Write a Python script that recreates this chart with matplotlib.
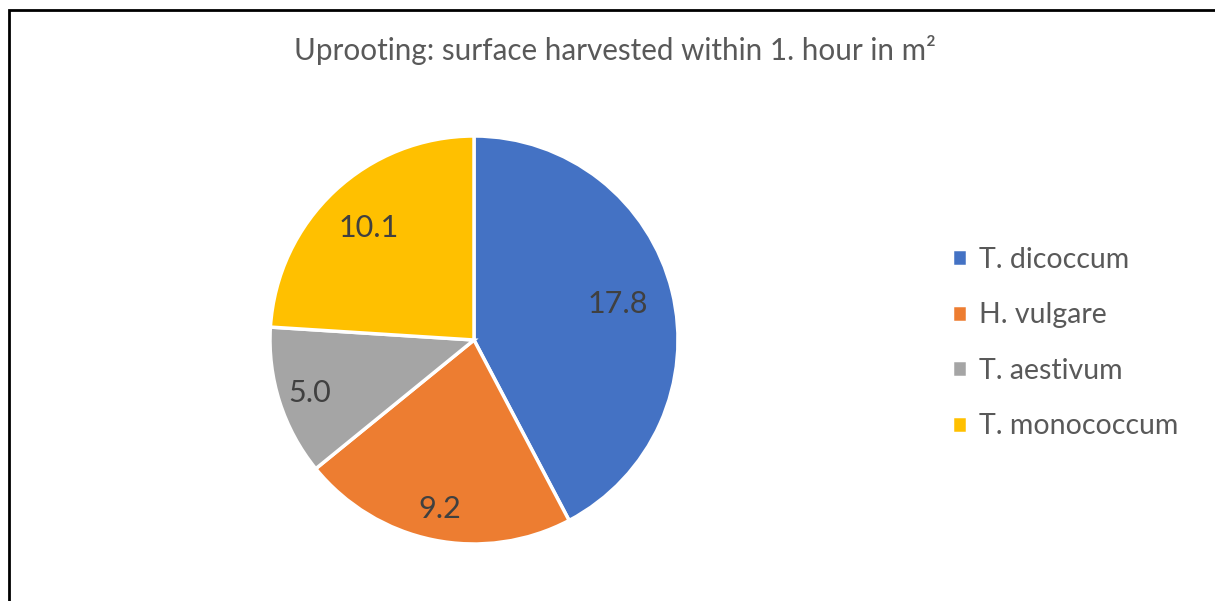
import matplotlib.pyplot as plt
from matplotlib.patches import Rectangle

names = ['T. dicoccum', 'H. vulgare', 'T. aestivum', 'T. monococcum']
values = [17.8, 9.2, 5.0, 10.1]
colors = ['#4472C4', '#ED7D31', '#A5A5A5', '#FFC000']

plt.rcParams['font.family'] = ['Lato', 'DejaVu Sans']

W, H = 1215, 601
fig = plt.figure(figsize=(W / 100, H / 100), dpi=100)

# outer chart border (right and bottom fall outside the picture)
fig.patches.append(Rectangle((9 / W, -0.1), 1.2, 1 - 10 / H + 0.1,
                             transform=fig.transFigure, fill=False,
                             edgecolor='black', linewidth=2))

cx, cy, r = 474, 340, 204
ax = fig.add_axes([(cx - r) / W, (H - cy - r) / H, 2 * r / W, 2 * r / H])

total = sum(values)
wedges, texts, autotexts = ax.pie(values, colors=colors, startangle=90,
                                  counterclock=False,
                                  autopct=lambda p: '%.1f' % (p * total / 100),
                                  pctdistance=0.8,
                                  wedgeprops=dict(edgecolor='white', linewidth=2.5),
                                  textprops=dict(color='#404040', fontsize=22))
ax.set_aspect('equal')
ax.set_xlim(-1, 1)
ax.set_ylim(-1, 1)

# excel-like label placement: nudge each label along its radius
for t, k in zip(autotexts, [0.91, 1.06, 1.06, 0.94]):
    x, y = t.get_position()
    t.set_position((x * k, y * k))

fig.text(615 / W, 1 - 50 / H, 'Uprooting: surface harvested within 1. hour in m²',
         ha='center', va='center', fontsize=21.3, color='#595959')

fig.legend(wedges, names, loc='center left', bbox_to_anchor=(926 / W, 1 - 343 / H),
           frameon=False, fontsize=20.5, labelcolor='#595959',
           handlelength=0.55, handleheight=0.55, handletextpad=0.4,
           labelspacing=1.04)

fig.savefig('out.png', dpi=100)
